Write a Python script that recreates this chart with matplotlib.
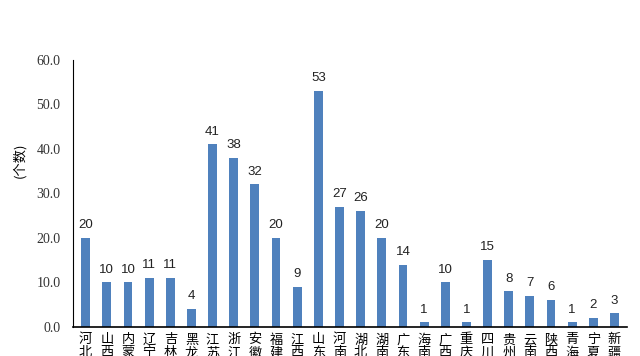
import matplotlib
matplotlib.use('Agg')
import matplotlib.pyplot as plt
import numpy as np

plt.rcParams['font.family'] = ['Noto Sans CJK SC', 'DejaVu Sans']

provinces = ['河北', '山西', '内蒙古', '辽宁', '吉林', '黑龙江', '江苏', '浙江', '安徽',
             '福建', '江西', '山东', '河南', '湖北', '湖南', '广东', '海南', '广西',
             '重庆', '四川', '贵州', '云南', '陕西', '青海', '宁夏', '新疆']
counts = [20, 10, 10, 11, 11, 4, 41, 38, 32, 20, 9, 53, 27, 26, 20, 14, 1, 10,
          1, 15, 8, 7, 6, 1, 2, 3]
yticks = [0, 10, 20, 30, 40, 50, 60]

fig = plt.figure(figsize=(6.4, 3.56), dpi=100)
ax = fig.add_axes([0.114, 0.082, 0.866, 0.75])

x = np.arange(len(provinces))
bars = ax.bar(x, counts, width=0.42, color='#4F81BD')

for xi, v in zip(x, counts):
    ax.text(xi, v + 1.5, str(v), ha='center', va='bottom', fontsize=9.5,
            family=['Liberation Sans', 'DejaVu Sans'], color='#222222')

ax.set_xlim(-0.6, len(provinces) - 0.4)
ax.set_ylim(0, 60)
ax.set_yticks(yticks)
ax.set_yticklabels([f'{t:.1f}' for t in yticks], family=['Liberation Serif', 'DejaVu Serif'],
                   fontsize=10, color='#333333')
ax.tick_params(axis='y', length=0, pad=9)
ax.set_xticks([])

# vertical stacked province names under each bar
for xi, name in zip(x, provinces):
    ax.text(xi, -1.5, '\n'.join(name), ha='center', va='top', fontsize=9.5,
            linespacing=1.0, clip_on=False)

for s in ['top', 'right']:
    ax.spines[s].set_visible(False)
ax.spines['left'].set_color('black')
ax.spines['bottom'].set_color('black')
ax.spines['bottom'].set_linewidth(1.2)

fig.text(0.03, 0.55, '(个数)', rotation=90, ha='center', va='center', fontsize=9.5)

fig.savefig('out.png', dpi=100)
